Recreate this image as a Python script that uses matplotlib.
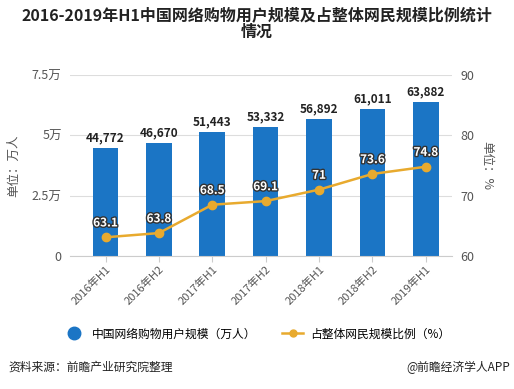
import matplotlib
matplotlib.use("Agg")
import matplotlib.pyplot as plt
import matplotlib.patheffects as pe
from matplotlib.lines import Line2D

plt.rcParams['font.family'] = ['Noto Sans CJK SC', 'DejaVu Sans']

# 数据
periods = ["2016年H1", "2016年H2", "2017年H1", "2017年H2", "2018年H1", "2018年H2", "2019年H1"]
users = [44772, 46670, 51443, 53332, 56892, 61011, 63882]
ratio = [63.1, 63.8, 68.5, 69.1, 71, 73.6, 74.8]
ratio_labels = ["63.1", "63.8", "68.5", "69.1", "71", "73.6", "74.8"]

bar_color = "#1B75C5"
line_color = "#E8AA2E"
grey = "#555555"

fig = plt.figure(figsize=(5.14, 3.89), dpi=100)
ax = fig.add_axes([70 / 514, 1 - 256 / 389, (452 - 70) / 514, (256 - 75) / 389])
x = list(range(len(periods)))

ax.bar(x, users, width=0.48, color=bar_color, zorder=2)
for i, v in enumerate(users):
    ax.text(i, v + 1500, f"{v:,}", ha="center", va="bottom", fontsize=8.5,
            fontweight="bold", color="#222222", zorder=5)

ax.set_ylim(0, 75000)
ax.set_yticks([0, 25000, 50000, 75000])
ax.set_yticklabels(["0", "2.5万", "5万", "7.5万"])
ax.set_xlim(-0.665, 6.49)
ax.set_xticks(x)
ax.set_xticklabels(periods, rotation=45, ha="right", rotation_mode="anchor", fontsize=8, color=grey)
ax.grid(axis="y", color="#dddddd", linewidth=0.8, zorder=0)
for s in ["top", "right", "left"]:
    ax.spines[s].set_visible(False)
ax.spines["bottom"].set_color("#cccccc")
ax.tick_params(axis="y", length=0, labelsize=9, labelcolor=grey, pad=6)
ax.tick_params(axis="x", length=4, color="#cccccc", pad=2)
ax.set_ylabel("单位：万人", fontsize=9, color=grey, labelpad=8)

ax2 = ax.twinx()
ax2.plot(x, ratio, color=line_color, linewidth=1.8, marker="o", markersize=6, zorder=4)
for i, v in enumerate(ratio):
    ax2.text(i, v + 1.3, ratio_labels[i], ha="center", va="bottom", fontsize=8.5,
             fontweight="bold", color="white", zorder=6,
             path_effects=[pe.withStroke(linewidth=2, foreground="#333333")])
ax2.set_ylim(60, 90)
ax2.set_yticks([60, 70, 80, 90])
for s in ["top", "right", "left", "bottom"]:
    ax2.spines[s].set_visible(False)
ax2.tick_params(axis="y", length=0, labelsize=9, labelcolor=grey, pad=6)
ax2.set_ylabel("单位：%", fontsize=9, color=grey, rotation=-90, labelpad=14)

fig.text(0.5, 1 - 15 / 389, "2016-2019年H1中国网络购物用户规模及占整体网民规模比例统计",
         ha="center", va="center", fontsize=11.5, fontweight="bold", color="#222222")
fig.text(0.5, 1 - 32 / 389, "情况", ha="center", va="center", fontsize=11.5,
         fontweight="bold", color="#222222")

handles = [Line2D([], [], marker="o", linestyle="none", color=bar_color, markersize=9),
           Line2D([], [], marker="o", color=line_color, markersize=5, linewidth=1.8)]
fig.legend(handles, ["中国网络购物用户规模（万人）", "占整体网民规模比例（%）"],
           loc="center", bbox_to_anchor=(0.5, 1 - 334 / 389), ncol=2, frameon=False,
           fontsize=8.5, handlelength=1.8, columnspacing=2.2, handletextpad=0.6)

fig.text(8 / 514, 1 - 367 / 389, "资料来源：前瞻产业研究院整理", ha="left", va="center",
         fontsize=8.5, color="#222222")
fig.text(510 / 514, 1 - 367 / 389, "@前瞻经济学人APP", ha="right", va="center",
         fontsize=8.5, color="#222222")

fig.savefig("out.png", dpi=100)
